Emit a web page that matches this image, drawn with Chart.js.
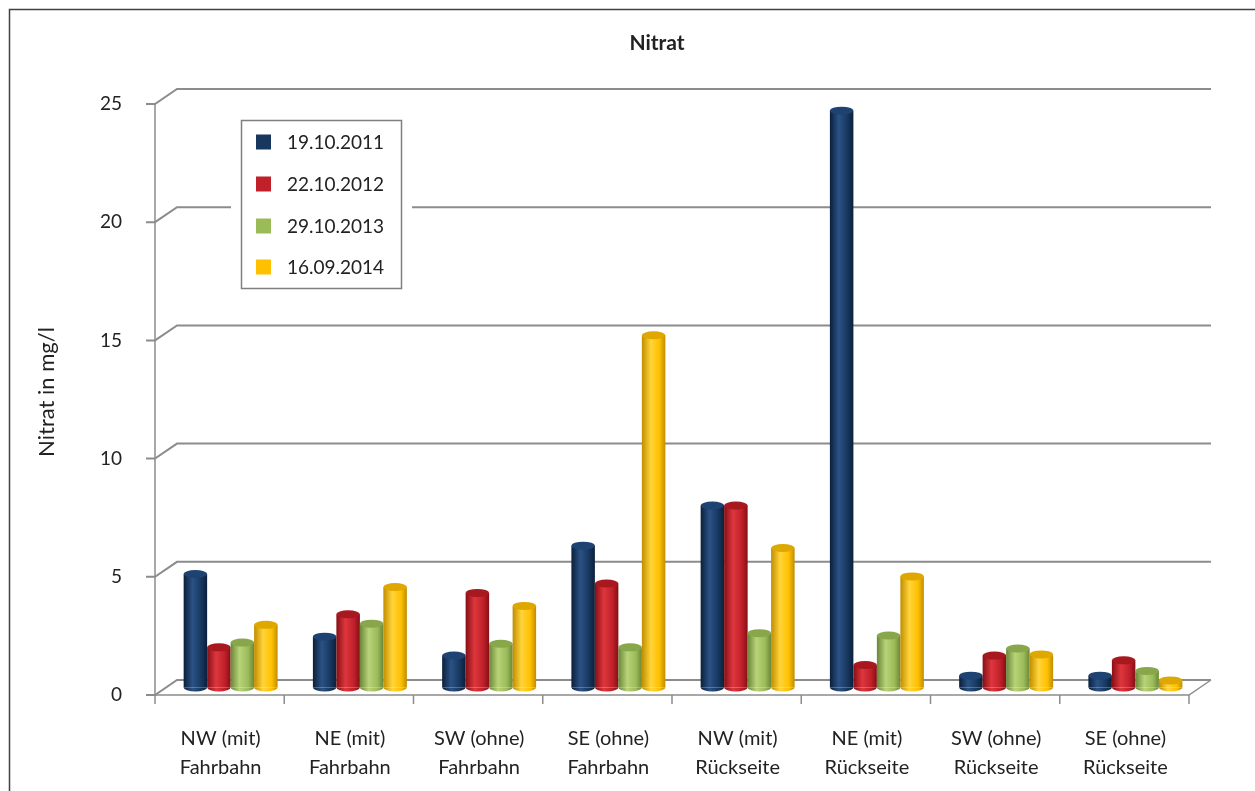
<!DOCTYPE html>
<html lang="de">
<head>
    <meta charset="UTF-8">
    <title>Nitrat</title>
    <script src="https://cdn.jsdelivr.net/npm/chart.js"></script>
    <style>
        html, body { margin: 0; padding: 0; background: #fff; }
        .wrap { position: relative; width: 1255px; height: 791px; }
    </style>
</head>
<body>
    <div class="wrap"><canvas id="nitratChart"></canvas></div>

    <script>
        // Data
        const categories = [
            ['NW (mit)', 'Fahrbahn'], ['NE (mit)', 'Fahrbahn'], ['SW (ohne)', 'Fahrbahn'], ['SE (ohne)', 'Fahrbahn'],
            ['NW (mit)', 'Rückseite'], ['NE (mit)', 'Rückseite'], ['SW (ohne)', 'Rückseite'], ['SE (ohne)', 'Rückseite']
        ];
        const seriesLabels = ['19.10.2011', '22.10.2012', '29.10.2013', '16.09.2014'];
        const values2011 = [4.8, 2.15, 1.35, 6.0, 7.7, 24.4, 0.5, 0.5];
        const values2012 = [1.7, 3.1, 4.0, 4.4, 7.7, 0.95, 1.35, 1.15];
        const values2013 = [1.9, 2.7, 1.85, 1.7, 2.3, 2.2, 1.65, 0.7];
        const values2014 = [2.65, 4.25, 3.45, 14.9, 5.9, 4.7, 1.4, 0.3];
        const yTicks = [0, 5, 10, 15, 20, 25];
        const seriesColors = ['#17375E', '#C0202A', '#9BBB59', '#FFC000'];

        // cylinder shading per series
        const shades = [
            { dark: '#0b1f3a', light: '#2b5286', cap: '#1e4272' },
            { dark: '#850f15', light: '#de363d', cap: '#a8181f' },
            { dark: '#6a8638', light: '#b8d378', cap: '#88a74a' },
            { dark: '#c08d00', light: '#ffd43a', cap: '#dfa800' }
        ];

        const depthX = 11, depthY = 7.5;   // half depth of the fake 3d box
        const fontFamily = 'Lato, "Open Sans", sans-serif';
        const textColor = '#222';
        const gridColor = '#8c8c8c';

        function drawCylinder(ctx, el, d) {
            const s = shades[d];
            const w = el.width, left = el.x - w / 2, rx = w / 2, ry = 4;
            const g = ctx.createLinearGradient(left, 0, left + w, 0);
            g.addColorStop(0, s.dark);
            g.addColorStop(0.38, s.light);
            g.addColorStop(0.75, seriesColors[d]);
            g.addColorStop(1, s.dark);
            ctx.fillStyle = g;
            ctx.fillRect(left, el.y, w, el.base - el.y);
            ctx.beginPath();
            ctx.ellipse(el.x, el.base, rx, ry, 0, 0, Math.PI);
            ctx.fill();
            ctx.beginPath();
            ctx.ellipse(el.x, el.y, rx, ry, 0, 0, Math.PI * 2);
            ctx.fillStyle = s.cap;
            ctx.fill();
        }

        const box3d = {
            id: 'box3d',
            beforeDatasetsDraw(chart) {
                const ctx = chart.ctx, xs = chart.scales.x, ys = chart.scales.y;
                const l = xs.left, r = xs.right;
                ctx.save();
                ctx.strokeStyle = gridColor;
                ctx.lineWidth = 2;
                yTicks.forEach(v => {
                    const y = ys.getPixelForValue(v);
                    ctx.beginPath();
                    ctx.moveTo(l - depthX - 9, y + depthY);
                    ctx.lineTo(l - depthX, y + depthY);
                    ctx.lineTo(l + depthX, y - depthY);
                    ctx.lineTo(r + depthX, y - depthY);
                    ctx.stroke();
                });
                const y0 = ys.getPixelForValue(0), yTop = ys.getPixelForValue(yTicks[yTicks.length - 1]);
                ctx.lineWidth = 1.5;
                ctx.beginPath();
                ctx.moveTo(l - depthX, yTop + depthY);
                ctx.lineTo(l - depthX, y0 + depthY);
                ctx.lineTo(r - depthX, y0 + depthY);
                ctx.lineTo(r + depthX, y0 - depthY);
                ctx.stroke();
                const catW = (r - l) / categories.length;
                for (let i = 0; i <= categories.length; i++) {
                    const x = l + i * catW - depthX;
                    ctx.beginPath();
                    ctx.moveTo(x, y0 + depthY);
                    ctx.lineTo(x, y0 + depthY + 9);
                    ctx.stroke();
                }

                // bars as cylinders, group by group
                const metas = chart.data.datasets.map((ds, i) => chart.getDatasetMeta(i));
                for (let i = 0; i < categories.length; i++) {
                    metas.forEach((m, d) => drawCylinder(ctx, m.data[i], d));
                }
                ctx.restore();
                return false;
            },
            afterDraw(chart) {
                const ctx = chart.ctx;
                ctx.save();
                // legend
                ctx.fillStyle = '#fff';
                ctx.fillRect(231, 112, 181, 184);
                ctx.strokeStyle = '#7f7f7f';
                ctx.lineWidth = 1.5;
                ctx.strokeRect(241.5, 120.5, 160, 168);
                const rows = [142, 184, 226, 267];
                ctx.font = '19px ' + fontFamily;
                ctx.textBaseline = 'middle';
                ctx.textAlign = 'left';
                chart.data.datasets.forEach((ds, i) => {
                    ctx.fillStyle = ds.backgroundColor;
                    ctx.fillRect(256, rows[i] - 7.5, 15, 15);
                    ctx.fillStyle = textColor;
                    ctx.fillText(ds.label, 287, rows[i] + 1);
                });
                // title
                ctx.font = 'bold 21px ' + fontFamily;
                ctx.textAlign = 'center';
                ctx.fillText('Nitrat', 657, 43);
                // outer frame
                ctx.strokeStyle = '#404040';
                ctx.lineWidth = 1.5;
                ctx.strokeRect(9.5, 9.5, 1260, 800);
                ctx.restore();
            }
        };

        const ctx = document.getElementById('nitratChart').getContext('2d');
        new Chart(ctx, {
            type: 'bar',
            data: {
                labels: categories,
                datasets: [values2011, values2012, values2013, values2014].map((vals, i) => ({
                    label: seriesLabels[i],
                    data: vals,
                    backgroundColor: seriesColors[i],
                    borderWidth: 0,
                    categoryPercentage: 0.727,
                    barPercentage: 1
                }))
            },
            options: {
                responsive: true,
                maintainAspectRatio: false,
                animation: false,
                layout: { padding: { top: 96.5, right: 55, left: 0, bottom: 0 } },
                plugins: {
                    legend: { display: false },
                    title: { display: false },
                    tooltip: { enabled: false }
                },
                scales: {
                    x: {
                        grid: { display: false, drawTicks: false },
                        border: { display: false },
                        ticks: {
                            padding: 37,
                            labelOffset: -10,
                            maxRotation: 0,
                            autoSkip: false,
                            color: textColor,
                            font: { family: fontFamily, size: 20, lineHeight: 29 / 20 }
                        },
                        afterFit: s => { s.height = 791 - 687.5; }
                    },
                    y: {
                        min: 0,
                        max: 25,
                        afterBuildTicks: s => { s.ticks = yTicks.map(v => ({ value: v })); },
                        grid: { display: false, drawTicks: false },
                        border: { display: false },
                        ticks: {
                            padding: 44,
                            labelOffset: depthY,
                            color: textColor,
                            font: { family: fontFamily, size: 19 }
                        },
                        title: {
                            display: true,
                            text: 'Nitrat in mg/l',
                            color: textColor,
                            font: { family: fontFamily, size: 22 },
                            padding: { top: 34, bottom: 0 }
                        },
                        afterFit: s => { s.width = 166; }
                    }
                }
            },
            plugins: [box3d]
        });
    </script>
</body>
</html>
